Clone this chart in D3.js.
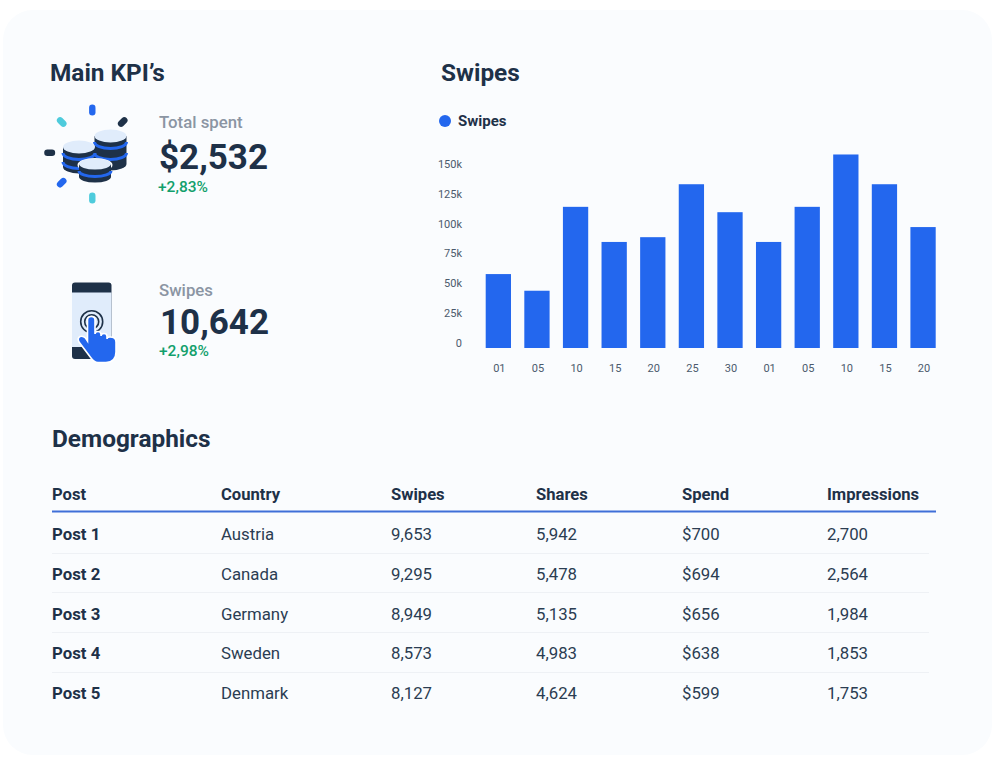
<!DOCTYPE html>
<html>
<head>
<meta charset="utf-8">
<script src="https://cdn.jsdelivr.net/npm/d3@7"></script>
<style>
html, body { margin: 0; padding: 0; background: #fff; }
svg { display: block; }
text { font-family: Roboto, sans-serif; fill: #1e3148; }
.title { font-size: 24.4px; font-weight: 700; }
.kpi-label { font-size: 16.8px; font-weight: 500; fill: #8b95a3; }
.kpi-value { font-size: 35px; font-weight: 700; }
.kpi-delta { font-size: 15.5px; font-weight: 500; fill: #12a06c; }
.legend-text { font-size: 15px; font-weight: 700; }
.axis text { font-size: 11px; fill: #4b5a6c; }
.axis path, .axis line { display: none; }
.th { font-size: 16.6px; font-weight: 700; }
.td { font-size: 16.8px; fill: #2b3d52; }
.td-first { font-size: 16.8px; font-weight: 700; }
</style>
</head>
<body>
<svg id="chart" width="992" height="763"></svg>
<script>
var days = ['01', '05', '10', '15', '20', '25', '30', '01', '05', '10', '15', '20'];
var swipes = [57.5, 43.5, 114, 84.5, 88.5, 133, 109.5, 84.5, 114, 158, 133, 97];
var yTicks = [0, 25, 50, 75, 100, 125, 150];

var columns = ['Post', 'Country', 'Swipes', 'Shares', 'Spend', 'Impressions'];
var posts = ['Post 1', 'Post 2', 'Post 3', 'Post 4', 'Post 5'];
var countries = ['Austria', 'Canada', 'Germany', 'Sweden', 'Denmark'];
var postSwipes = ['9,653', '9,295', '8,949', '8,573', '8,127'];
var shares = ['5,942', '5,478', '5,135', '4,983', '4,624'];
var spend = ['$700', '$694', '$656', '$638', '$599'];
var impressions = ['2,700', '2,564', '1,984', '1,853', '1,753'];

var DARK = '#1e3148', BLUE = '#2367ee', CYAN = '#4ecbdc', PALE = '#e0ecfb', CARD = '#fafcfe';

var svg = d3.select('#chart');

svg.append('rect')
	.attr('x', 3).attr('y', 10)
	.attr('width', 989).attr('height', 745)
	.attr('rx', 30)
	.attr('fill', CARD);

function addText(x, y, str, cls){
	return svg.append('text').attr('x', x).attr('y', y).attr('class', cls).text(str);
}

addText(50, 81, 'Main KPI\u2019s', 'title');
addText(441, 81, 'Swipes', 'title');
addText(52, 447, 'Demographics', 'title');

addText(159, 128, 'Total spent', 'kpi-label');
addText(159, 169, '$2,532', 'kpi-value');
addText(158, 192, '+2,83%', 'kpi-delta');
addText(159, 296, 'Swipes', 'kpi-label');
addText(160, 334, '10,642', 'kpi-value');
addText(159, 356, '+2,98%', 'kpi-delta');

// coins icon
var spokes = [
	[92.3, 110, 0, BLUE], [122.7, 122, 45, DARK], [61.7, 122, -45, CYAN],
	[49.7, 152.7, 90, DARK], [61.7, 182.7, 45, BLUE], [92.3, 198, 0, CYAN]
];
var coins = svg.append('g').attr('class', 'coins');
spokes.forEach(function(s){
	coins.append('rect')
		.attr('x', -3.2).attr('y', -5.5)
		.attr('width', 6.4).attr('height', 11)
		.attr('rx', 3.2)
		.attr('fill', s[3])
		.attr('transform', 'translate(' + s[0] + ',' + s[1] + ') rotate(' + s[2] + ')');
});

function addCoinStack(cx, top, rx, ry, h, bands){
	var g = coins.append('g').attr('transform', 'translate(' + cx + ',' + top + ')');
	g.append('path')
		.attr('d', 'M' + (-rx) + ',0 V' + h + ' A' + rx + ',' + ry + ' 0 0 0 ' + rx + ',' + h + ' V0 Z')
		.attr('fill', DARK);
	bands.forEach(function(b){
		g.append('path')
			.attr('d', 'M' + (-rx) + ',' + b + ' A' + rx + ',' + ry + ' 0 0 0 ' + rx + ',' + b)
			.attr('fill', 'none')
			.attr('stroke', BLUE)
			.attr('stroke-width', 3);
	});
	g.append('ellipse')
		.attr('rx', rx).attr('ry', ry)
		.attr('fill', PALE);
}
addCoinStack(110.5, 136, 16, 6.5, 28, [6, 17]);
addCoinStack(79, 147, 16, 6.5, 20, [6, 15]);
coins.append('ellipse')
	.attr('cx', 95).attr('cy', 165)
	.attr('rx', 17.5).attr('ry', 7)
	.attr('fill', CARD);
addCoinStack(95, 164, 16, 5.5, 13, [7]);

// phone icon
var phone = svg.append('g').attr('class', 'phone');
phone.append('rect')
	.attr('x', 72).attr('y', 282.5)
	.attr('width', 39.5).attr('height', 76.5)
	.attr('rx', 3)
	.attr('fill', DARK);
phone.append('rect')
	.attr('x', 72).attr('y', 292.5)
	.attr('width', 39.5).attr('height', 54.5)
	.attr('fill', PALE);
[11, 7].forEach(function(r){
	phone.append('circle')
		.attr('cx', 91.7).attr('cy', 321.7)
		.attr('r', r)
		.attr('fill', 'none')
		.attr('stroke', DARK)
		.attr('stroke-width', 1.6);
});
phone.append('path')
	.attr('d', 'M87.5,320 Q87.5,316.5 91.3,316.5 Q95,316.5 95,320 L95,334 Q95,331.5 98,331.5 Q101,331.5 101,334.5 L101,336 ' +
		'Q101,333.5 104,333.5 Q107,333.5 107,336.5 L107,339 Q107,337 110,337 Q116,337 116,342 L116,352 ' +
		'Q116,362 106,362.5 L98,362.5 Q94,362.5 91,358 L79,342 Q77,338 80,336.5 Q83,335.5 85.5,338 L87.5,341 Z')
	.attr('fill', BLUE)
	.attr('stroke', '#ffffff')
	.attr('stroke-width', 1.6);

// legend
svg.append('circle').attr('cx', 445).attr('cy', 121).attr('r', 6).attr('fill', BLUE);
addText(458, 126, 'Swipes', 'legend-text');

// bar chart
var x = d3.scaleBand()
	.domain(d3.range(days.length))
	.range([485.7, 935.7])
	.paddingInner(0.345);
var y = d3.scaleLinear().domain([0, 150]).range([342.5, 164]);
var barBottom = 348;

svg.append('g').attr('class', 'bars')
	.selectAll('rect')
	.data(swipes)
	.join('rect')
	.attr('x', function(d, i){ return x(i); })
	.attr('y', function(d){ return y(d); })
	.attr('width', x.bandwidth())
	.attr('height', function(d){ return barBottom - y(d); })
	.attr('fill', BLUE);

svg.append('g')
	.attr('class', 'axis')
	.attr('transform', 'translate(1,364)')
	.call(d3.axisBottom(x).tickSize(0).tickPadding(0).tickFormat(function(i){ return days[i]; }))
	.selectAll('text').attr('dy', '0.71em');

svg.append('g')
	.attr('class', 'axis')
	.attr('transform', 'translate(462,0)')
	.call(d3.axisLeft(y).tickValues(yTicks).tickSize(0).tickPadding(0)
		.tickFormat(function(d){ return d === 0 ? '0' : d + 'k'; }));

// table
var colX = d3.scaleOrdinal().domain(columns).range([52, 221, 391, 536, 682, 827]);
var rowBaseline = d3.scalePoint().domain(posts).range([540, 699]);
var rowData = [posts, countries, postSwipes, shares, spend, impressions];

svg.append('g').selectAll('text')
	.data(columns)
	.join('text')
	.attr('class', 'th')
	.attr('x', function(d){ return colX(d); })
	.attr('y', 500)
	.text(function(d){ return d; });

svg.append('line')
	.attr('x1', 52).attr('x2', 936)
	.attr('y1', 511.5).attr('y2', 511.5)
	.attr('stroke', '#3f6fd8')
	.attr('stroke-width', 2);

posts.slice(0, -1).forEach(function(p){
	var ly = Math.round(rowBaseline(p) + 12.5) + 0.5;
	svg.append('line')
		.attr('x1', 52).attr('x2', 929)
		.attr('y1', ly).attr('y2', ly)
		.attr('stroke', '#eef1f5');
});

rowData.forEach(function(col, c){
	svg.append('g').selectAll('text')
		.data(col)
		.join('text')
		.attr('class', c === 0 ? 'td-first' : 'td')
		.attr('x', colX(columns[c]))
		.attr('y', function(d, i){ return rowBaseline(posts[i]); })
		.text(function(d){ return d; });
});
</script>
</body>
</html>
